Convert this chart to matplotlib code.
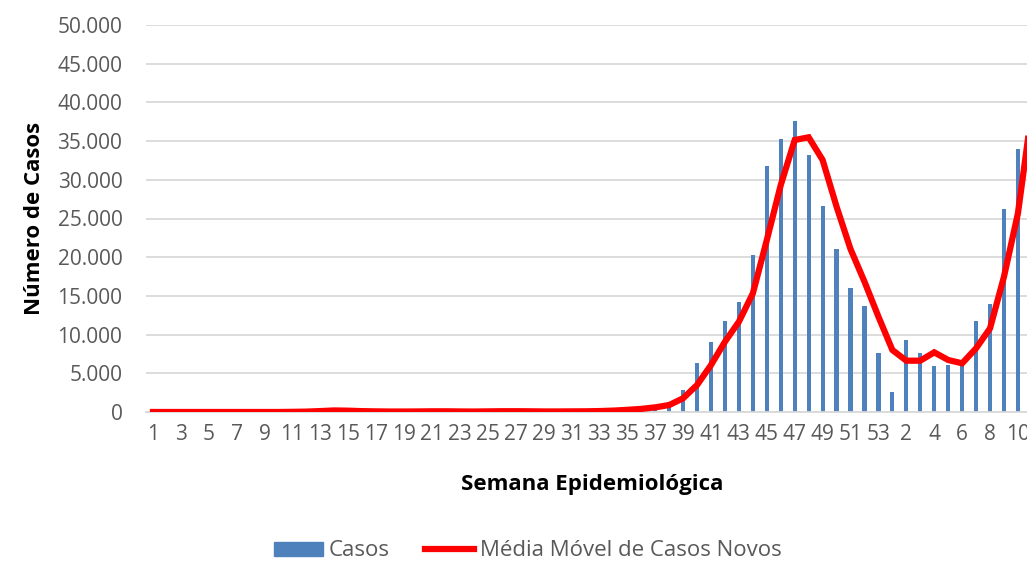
import numpy as np
import matplotlib
matplotlib.use("Agg")
import matplotlib.pyplot as plt
from matplotlib.ticker import FuncFormatter
from matplotlib.patches import Patch
from matplotlib.lines import Line2D

plt.rcParams['font.family'] = ['Open Sans', 'DejaVu Sans']

# weeks: 1..53 of first year, then 1..11 of the next one
semanas = [str(s) for s in range(1, 54)] + [str(s) for s in range(1, 12)]

# weekly cases (bars); last week is cut off in the picture
casos = [0, 0, 0, 0, 0, 0, 0, 0, 0, 0,
         30, 60, 150, 230, 160, 90, 70, 50, 60, 80,
         100, 90, 60, 60, 90, 110, 100, 80, 60, 70,
         90, 100, 140, 220, 350, 480, 750, 1330, 2840, 6370,
         9040, 11720, 14210, 20280, 31780, 35230, 37640, 33170, 26650, 21020,
         15980, 13700, 7660,
         2620, 9300, 7580, 5990, 6070, 6200, 11760, 13950, 26230, 33940, np.nan]

# moving average of new cases (red line)
media_movel = [0, 0, 0, 0, 0, 0, 0, 0, 0, 0,
               20, 50, 120, 200, 170, 110, 80, 60, 60, 70,
               90, 90, 70, 60, 80, 100, 100, 90, 70, 70,
               80, 90, 120, 180, 280, 400, 600, 900, 1770, 3490,
               6070, 9080, 11670, 15330, 22220, 29330, 35140, 35490, 32560, 26530,
               21050, 16840, 12320,
               8010, 6630, 6630, 7710, 6720, 6290, 8230, 10810, 17480, 25670, 39000]

W, H = 1027, 563
fig = plt.figure(figsize=(W / 100, H / 100), dpi=100)
ax = fig.add_axes([146 / W, (H - 412) / H, (W - 146) / W, (412 - 25) / H])

x = np.arange(len(semanas))
ax.bar(x, casos, width=0.3, color='#4F81BD', zorder=2)
ax.plot(x, media_movel, color='#FF0000', lw=4.5, solid_joinstyle='miter', zorder=3)

ax.set_xlim(-0.5, 62.65)
ax.set_ylim(0, 50000)
ax.set_yticks(np.arange(0, 50001, 5000))
ax.yaxis.set_major_formatter(FuncFormatter(lambda v, p: f"{int(v):,}".replace(",", ".")))
ax.set_xticks(x[::2])
ax.set_xticklabels(semanas[::2])
ax.grid(axis='y', color='#D9D9D9', lw=1.3, zorder=0)
ax.set_axisbelow(True)
for s in ['left', 'right', 'top']:
    ax.spines[s].set_visible(False)
ax.spines['bottom'].set_color('#D9D9D9')
ax.spines['bottom'].set_linewidth(1.3)
ax.tick_params(axis='both', length=0, labelsize=15, colors='#595959')
ax.tick_params(axis='y', pad=17)
ax.tick_params(axis='x', pad=9)

ax.set_ylabel('Número de Casos', fontsize=16, fontweight='bold', color='black')
ax.yaxis.set_label_coords(-101 / (W - 146), 0.5)
ax.set_xlabel('Semana Epidemiológica', fontsize=16, fontweight='bold', color='black')
ax.xaxis.set_label_coords((592 - 146) / (W - 146), -62 / (412 - 25))

handles = [Patch(color='#4F81BD'), Line2D([], [], color='#FF0000', lw=4.5)]
fig.legend(handles, ['Casos', 'Média Móvel de Casos Novos'], ncol=2, frameon=False,
           loc='center', bbox_to_anchor=(528 / W, 1 - 551 / H), fontsize=16,
           labelcolor='#595959', handlelength=2.2, handleheight=0.6,
           handletextpad=0.25, columnspacing=1.6)

fig.savefig('out.png', dpi=100)
